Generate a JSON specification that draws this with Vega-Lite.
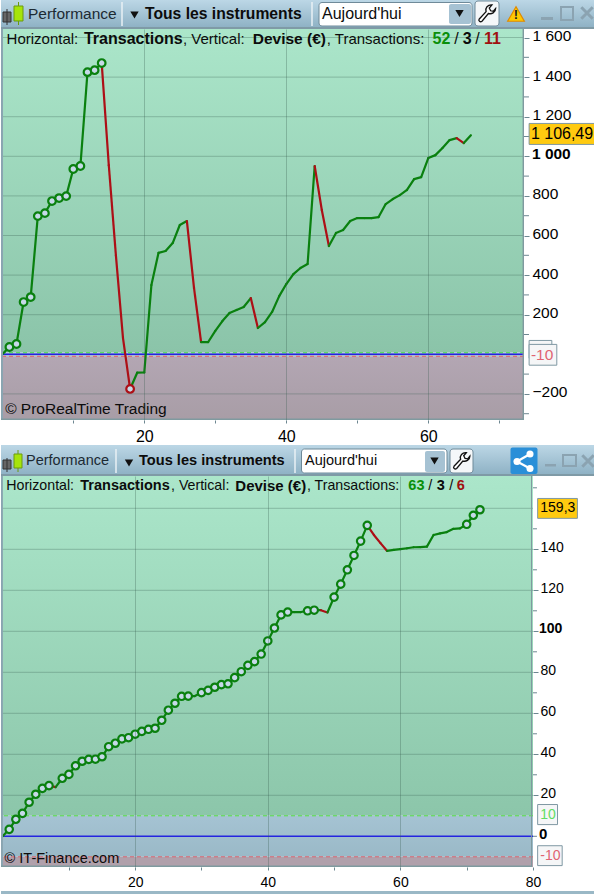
{"$schema":"https://vega.github.io/schema/vega-lite/v6.json","padding":0,"background":"white","bounds":"flush","spacing":0,
"config":{"view":{"stroke":null},"font":"Liberation Sans","text":{"font":"Liberation Sans","align":"left","baseline":"middle","color":"#0c0c0c"},"axis":{"labelFont":"Liberation Sans","labelColor":"#000"}},
"datasets":{"p1":[{"trade":0,"equity":0},{"trade":1,"equity":37,"record":"high"},{"trade":2,"equity":52,"record":"high"},{"trade":3,"equity":264,"record":"high"},{"trade":4,"equity":289,"record":"high"},{"trade":5,"equity":698,"record":"high"},{"trade":6,"equity":713,"record":"high"},{"trade":7,"equity":774,"record":"high"},{"trade":8,"equity":789,"record":"high"},{"trade":9,"equity":799,"record":"high"},{"trade":10,"equity":936,"record":"high"},{"trade":11,"equity":951,"record":"high"},{"trade":12,"equity":1425,"record":"high"},{"trade":13,"equity":1435,"record":"high"},{"trade":14,"equity":1471,"record":"high"},{"trade":15,"equity":955},{"trade":16,"equity":500},{"trade":17,"equity":82},{"trade":18,"equity":-175,"record":"low"},{"trade":19,"equity":-93},{"trade":20,"equity":-92},{"trade":21,"equity":350},{"trade":22,"equity":512},{"trade":23,"equity":522},{"trade":24,"equity":562},{"trade":25,"equity":653},{"trade":26,"equity":673},{"trade":27,"equity":335},{"trade":28,"equity":62},{"trade":29,"equity":62},{"trade":30,"equity":118},{"trade":31,"equity":168},{"trade":32,"equity":209},{"trade":33,"equity":224},{"trade":34,"equity":239},{"trade":35,"equity":284},{"trade":36,"equity":133},{"trade":37,"equity":163},{"trade":38,"equity":214},{"trade":39,"equity":294},{"trade":40,"equity":355},{"trade":41,"equity":405},{"trade":42,"equity":436},{"trade":43,"equity":456},{"trade":44,"equity":951},{"trade":45,"equity":729},{"trade":46,"equity":547},{"trade":47,"equity":613},{"trade":48,"equity":628},{"trade":49,"equity":673},{"trade":50,"equity":688},{"trade":51,"equity":688},{"trade":52,"equity":688},{"trade":53,"equity":693},{"trade":54,"equity":759},{"trade":55,"equity":784},{"trade":56,"equity":804},{"trade":57,"equity":830},{"trade":58,"equity":885},{"trade":59,"equity":895},{"trade":60,"equity":991},{"trade":61,"equity":1006},{"trade":62,"equity":1042},{"trade":63,"equity":1082},{"trade":64,"equity":1092},{"trade":65,"equity":1067},{"trade":66,"equity":1106.49}],
"p2":[{"trade":0,"equity":0},{"trade":1,"equity":3.4,"record":"high"},{"trade":2,"equity":8.3,"record":"high"},{"trade":3,"equity":11.2,"record":"high"},{"trade":4,"equity":16.6,"record":"high"},{"trade":5,"equity":20.5,"record":"high"},{"trade":6,"equity":23.4,"record":"high"},{"trade":7,"equity":24.7,"record":"high"},{"trade":8,"equity":24.0},{"trade":9,"equity":28.3,"record":"high"},{"trade":10,"equity":30.2,"record":"high"},{"trade":11,"equity":34.4,"record":"high"},{"trade":12,"equity":36.6,"record":"high"},{"trade":13,"equity":37.5,"record":"high"},{"trade":14,"equity":37.6,"record":"high"},{"trade":15,"equity":38.8,"record":"high"},{"trade":16,"equity":43.7,"record":"high"},{"trade":17,"equity":45.4,"record":"high"},{"trade":18,"equity":47.5,"record":"high"},{"trade":19,"equity":48.1,"record":"high"},{"trade":20,"equity":49.8,"record":"high"},{"trade":21,"equity":51.2,"record":"high"},{"trade":22,"equity":52.2,"record":"high"},{"trade":23,"equity":52.7,"record":"high"},{"trade":24,"equity":56.6,"record":"high"},{"trade":25,"equity":61.5,"record":"high"},{"trade":26,"equity":64.9,"record":"high"},{"trade":27,"equity":68.3,"record":"high"},{"trade":28,"equity":68.4,"record":"high"},{"trade":29,"equity":68.4},{"trade":30,"equity":70.1,"record":"high"},{"trade":31,"equity":71.2,"record":"high"},{"trade":32,"equity":72.7,"record":"high"},{"trade":33,"equity":74.0,"record":"high"},{"trade":34,"equity":74.4,"record":"high"},{"trade":35,"equity":77.4,"record":"high"},{"trade":36,"equity":80.3,"record":"high"},{"trade":37,"equity":83.4,"record":"high"},{"trade":38,"equity":85.2,"record":"high"},{"trade":39,"equity":88.9,"record":"high"},{"trade":40,"equity":95.3,"record":"high"},{"trade":41,"equity":101.6,"record":"high"},{"trade":42,"equity":108,"record":"high"},{"trade":43,"equity":109.4,"record":"high"},{"trade":44,"equity":109.4},{"trade":45,"equity":109.4},{"trade":46,"equity":110.0,"record":"high"},{"trade":47,"equity":110.3,"record":"high"},{"trade":48,"equity":110.3},{"trade":49,"equity":109.2},{"trade":50,"equity":116.7,"record":"high"},{"trade":51,"equity":123,"record":"high"},{"trade":52,"equity":130,"record":"high"},{"trade":53,"equity":137,"record":"high"},{"trade":54,"equity":144,"record":"high"},{"trade":55,"equity":151.7,"record":"high"},{"trade":56,"equity":147},{"trade":57,"equity":143},{"trade":58,"equity":139.2},{"trade":59,"equity":139.7},{"trade":60,"equity":140.1},{"trade":61,"equity":140.5},{"trade":62,"equity":141},{"trade":63,"equity":141.1},{"trade":64,"equity":141.3},{"trade":65,"equity":147},{"trade":66,"equity":147.8},{"trade":67,"equity":148.4},{"trade":68,"equity":150},{"trade":69,"equity":150.2},{"trade":70,"equity":152.2,"record":"high"},{"trade":71,"equity":156.6,"record":"high"},{"trade":72,"equity":159.3,"record":"high"}]},
"vconcat":[
{"width":594,"height":29,"data":{"values":[{}]},"layer":[
{"mark":{"type":"rect","color":{"gradient":"linear","x1":0,"y1":0,"x2":0,"y2":1,"stops":[{"offset":0,"color":"#bcd7e6"},{"offset":1,"color":"#8fb2c5"}]}},"encoding":{"x":{"datum":0,"type":"quantitative","scale":{"domain":[0,594],"nice":false,"zero":false},"axis":{"labels":false,"ticks":false,"domain":false,"grid":false,"title":null}},"x2":{"datum":594},"y":{"datum":0,"type":"quantitative","scale":{"domain":[29,0],"nice":false,"zero":false},"axis":{"labels":false,"ticks":false,"domain":false,"grid":false,"title":null}},"y2":{"datum":27}}},
{"mark":{"type":"rect","color":"#7f9aa6"},"encoding":{"x":{"datum":0},"x2":{"datum":594},"y":{"datum":27},"y2":{"datum":29}}},
{"mark":{"type":"rect","color":"#666","stroke":"#333"},"encoding":{"x":{"datum":2},"x2":{"datum":10},"y":{"datum":12},"y2":{"datum":22}}},
{"mark":{"type":"rule","color":"#333"},"encoding":{"x":{"datum":6},"y":{"datum":9},"y2":{"datum":25}}},
{"mark":{"type":"rule","color":"#6a9a10"},"encoding":{"x":{"datum":17.5},"y":{"datum":2},"y2":{"datum":25}}},
{"mark":{"type":"rect","color":"#a6e40a","stroke":"#6a9a10"},"encoding":{"x":{"datum":13},"x2":{"datum":22},"y":{"datum":6},"y2":{"datum":21}}},
{"mark":{"type":"text","text":"Performance","fontSize":15.5,"color":"#1c2a33"},"encoding":{"x":{"datum":27},"y":{"datum":13.5}}},
{"mark":{"type":"rule","color":"#e8f0f5","strokeWidth":1.5},"encoding":{"x":{"datum":121},"y":{"datum":2},"y2":{"datum":26}}},
{"mark":{"type":"point","shape":"triangle-down","filled":true,"color":"#111","size":70,"opacity":1},"encoding":{"x":{"datum":133.5},"y":{"datum":15}}},
{"mark":{"type":"text","text":"Tous les instruments","fontSize":15.7,"fontWeight":"bold"},"encoding":{"x":{"datum":144},"y":{"datum":14}}},
{"mark":{"type":"rule","color":"#e8f0f5","strokeWidth":1.5},"encoding":{"x":{"datum":311},"y":{"datum":2},"y2":{"datum":26}}},
{"mark":{"type":"rect","color":"white","stroke":"#6f8a99","cornerRadius":3},"encoding":{"x":{"datum":318},"x2":{"datum":471},"y":{"datum":2.5},"y2":{"datum":26}}},
{"mark":{"type":"text","text":"Aujourd'hui","fontSize":16},"encoding":{"x":{"datum":321},"y":{"datum":13.5}}},
{"mark":{"type":"rect","color":"#a6c2d3","cornerRadius":2},"encoding":{"x":{"datum":448},"x2":{"datum":470},"y":{"datum":4},"y2":{"datum":24}}},
{"mark":{"type":"point","shape":"triangle-down","filled":true,"color":"#111","size":70,"opacity":1},"encoding":{"x":{"datum":458.5},"y":{"datum":13.5}}},
{"mark":{"type":"rect","color":"#f4f7f9","stroke":"#6f8a99","cornerRadius":3},"encoding":{"x":{"datum":474},"x2":{"datum":498},"y":{"datum":1},"y2":{"datum":26}}},
{"mark":{"type":"point","shape":"M0.95 -0.55C0.95 -0.1 0.5 0.1 0.15 0L-0.55 0.85C-0.75 1 -1 0.8 -0.85 0.6L-0.1 -0.2C-0.25 -0.6 0.1 -1 0.55 -0.95L0.25 -0.6L0.4 -0.3L0.7 -0.25Z","filled":true,"color":"#fff","stroke":"#111","strokeWidth":1.3,"size":330,"opacity":1},"encoding":{"x":{"datum":486},"y":{"datum":13.5}}},
{"mark":{"type":"point","shape":"triangle-up","filled":true,"color":"#ffc800","stroke":"#e08a00","strokeWidth":1.2,"size":280,"opacity":1},"encoding":{"x":{"datum":515},"y":{"datum":14}}},
{"mark":{"type":"text","text":"!","fontSize":13,"fontWeight":"bold","align":"center","color":"#222"},"encoding":{"x":{"datum":515},"y":{"datum":15}}},
{"mark":{"type":"rect","color":"#8ba3b1"},"encoding":{"x":{"datum":540},"x2":{"datum":552},"y":{"datum":17},"y2":{"datum":20}}},
{"mark":{"type":"rect","fillOpacity":0,"stroke":"#8ba3b1","strokeWidth":2},"encoding":{"x":{"datum":560},"x2":{"datum":572},"y":{"datum":7},"y2":{"datum":20}}},
{"mark":{"type":"point","shape":"M-1 -1L1 1M1 -1L-1 1","color":"#8ba3b1","strokeWidth":3,"size":130,"opacity":1},"encoding":{"x":{"datum":586},"y":{"datum":13}}}
]},
{"width":523,"height":391,"data":{"values":[{}]},"layer":[
{"mark":{"type":"rect","color":{"gradient":"linear","x1":0,"y1":0,"x2":0,"y2":1,"stops":[{"offset":0,"color":"#abe6ca"},{"offset":1,"color":"#8bc4a9"}]}},"encoding":{"x":{"datum":-0.183,"type":"quantitative","scale":{"domain":[-0.183,73.48],"nice":false,"zero":false},"axis":{"title":null,"zindex":1,"values":[10,20,30,40,50,60,70],"labelExpr":"datum.value%20==0?datum.label:''","labelFontSize":16,"labelPadding":5,"labelOverlap":false,"labelFlush":false,"tickSize":3,"tickColor":"#6d8791","domain":false,"grid":true,"gridColor":"#35594b","gridOpacity":{"condition":{"test":"datum.value%20==0","value":0.3},"value":0}}},"x2":{"datum":73.48},"y":{"datum":1643,"type":"quantitative","scale":{"domain":[-331.8,1643],"nice":false,"zero":false},"axis":{"title":null,"orient":"right","zindex":1,"values":[-200,200,400,600,800,1000,1200,1400,1600],"labelExpr":"datum.value==1000?'':replace(format(datum.value,','),',',' ')","labelFontSize":15.5,"labelPadding":3,"labelOffset":-2,"labelFlush":false,"labelBound":false,"tickSize":5,"tickColor":"#6d8791","domain":false,"grid":false}},"y2":{"datum":10}}},
{"mark":{"type":"rect","color":"#a3c0d0"},"encoding":{"x":{"datum":-0.183},"x2":{"datum":73.48},"y":{"datum":10},"y2":{"datum":-10}}},
{"mark":{"type":"rect","color":{"gradient":"linear","x1":0,"y1":0,"x2":0,"y2":1,"stops":[{"offset":0,"color":"#b3a6b3"},{"offset":1,"color":"#a89da6"}]}},"encoding":{"x":{"datum":-0.183},"x2":{"datum":73.48},"y":{"datum":-10},"y2":{"datum":-331.8}}},
{"data":{"values":[{"level":-200},{"level":200},{"level":400},{"level":600},{"level":800},{"level":1000},{"level":1200},{"level":1400},{"level":1600}]},"mark":{"type":"rule","color":"#35594b","opacity":0.3},"encoding":{"y":{"field":"level","type":"quantitative"}}},
{"data":{"values":[{"level":-300},{"level":-100},{"level":100},{"level":300},{"level":500},{"level":700},{"level":900},{"level":1100},{"level":1300},{"level":1500}]},"mark":{"type":"rule","color":"#6d8791"},"encoding":{"x":{"datum":73.48},"x2":{"datum":74.18},"y":{"field":"level","type":"quantitative"}}},
{"mark":{"type":"rule","color":"#44dd44","strokeWidth":1,"strokeDash":[4,3]},"encoding":{"y":{"datum":8}}},
{"mark":{"type":"rule","color":"#e45a66","strokeWidth":1,"strokeDash":[4,3]},"encoding":{"y":{"datum":-10}}},
{"mark":{"type":"rule","color":"#2424e0","strokeWidth":1.4},"encoding":{"y":{"datum":0}}},
{"data":{"name":"p1"},"transform":[{"window":[{"op":"lead","field":"trade","as":"trade2"},{"op":"lead","field":"equity","as":"equity2"}],"sort":[{"field":"trade"}]},{"filter":"isValid(datum.trade2)"}],"mark":{"type":"rule","strokeWidth":2.2,"strokeCap":"round"},"encoding":{"x":{"field":"trade","type":"quantitative"},"x2":{"field":"trade2"},"y":{"field":"equity","type":"quantitative"},"y2":{"field":"equity2"},"color":{"condition":{"test":"datum.equity2<datum.equity","value":"#ad0f16"},"value":"#0a800f"}}},
{"data":{"name":"p1"},"transform":[{"filter":"datum.record"}],"mark":{"type":"point","filled":true,"fill":"#c6d9e8","strokeWidth":2.2,"size":58,"opacity":1},"encoding":{"x":{"field":"trade","type":"quantitative"},"y":{"field":"equity","type":"quantitative"},"stroke":{"condition":{"test":"datum.record=='low'","value":"#ad0f16"},"value":"#0a800f"}}},
{"mark":{"type":"text","text":"Horizontal:","fontSize":15},"encoding":{"x":{"datum":0.6},"y":{"datum":1592}}},
{"mark":{"type":"text","text":"Transactions","fontSize":16,"fontWeight":"bold"},"encoding":{"x":{"datum":11.5},"y":{"datum":1592}}},
{"mark":{"type":"text","text":", Vertical:","fontSize":15},"encoding":{"x":{"datum":25.45},"y":{"datum":1592}}},
{"mark":{"type":"text","text":"Devise (€)","fontSize":15.5,"fontWeight":"bold"},"encoding":{"x":{"datum":35.27},"y":{"datum":1592}}},
{"mark":{"type":"text","text":", Transactions:","fontSize":15},"encoding":{"x":{"datum":45.7},"y":{"datum":1592}}},
{"mark":{"type":"text","text":"52","fontSize":16,"fontWeight":"bold","color":"#0a8f0a"},"encoding":{"x":{"datum":60.6},"y":{"datum":1592}}},
{"mark":{"type":"text","text":"/","fontSize":16},"encoding":{"x":{"datum":63.65},"y":{"datum":1592}}},
{"mark":{"type":"text","text":"3","fontSize":16,"fontWeight":"bold"},"encoding":{"x":{"datum":64.85},"y":{"datum":1592}}},
{"mark":{"type":"text","text":"/","fontSize":16},"encoding":{"x":{"datum":66.6},"y":{"datum":1592}}},
{"mark":{"type":"text","text":"11","fontSize":16,"fontWeight":"bold","color":"#a01010"},"encoding":{"x":{"datum":67.85},"y":{"datum":1592}}},
{"mark":{"type":"text","text":"© ProRealTime Trading","fontSize":15.5},"encoding":{"x":{"datum":0.4},"y":{"datum":-276}}},
{"mark":{"type":"text","text":"1 000","fontSize":15.5,"fontWeight":"bold","color":"#000"},"encoding":{"x":{"datum":74.6},"y":{"datum":1010}}},
{"mark":{"type":"rect","color":"#f5f6f7","stroke":"#7f98a3"},"encoding":{"x":{"datum":74.2},"x2":{"datum":77.4},"y":{"datum":70},"y2":{"datum":-20}}},
{"mark":{"type":"rect","color":"#f5f6f7","stroke":"#7f98a3"},"encoding":{"x":{"datum":74.2},"x2":{"datum":78.1},"y":{"datum":50},"y2":{"datum":-55}}},
{"mark":{"type":"text","text":"-10","fontSize":15.5,"color":"#e06472"},"encoding":{"x":{"datum":74.45},"y":{"datum":-5}}},
{"mark":{"type":"rect","color":"#ffca10","stroke":"#7f98a3"},"encoding":{"x":{"datum":74.2},"x2":{"datum":83.5},"y":{"datum":1166},"y2":{"datum":1060}}},
{"mark":{"type":"text","text":"1 106,49","fontSize":16,"color":"#000"},"encoding":{"x":{"datum":74.45},"y":{"datum":1112}}},
{"mark":{"type":"rect","color":"#8aa5b1"},"encoding":{"x":{"datum":-0.183},"x2":{"datum":0.1},"y":{"datum":1643},"y2":{"datum":-331.8}}},
{"mark":{"type":"rect","color":"#7f9a9f"},"encoding":{"x":{"datum":73.28},"x2":{"datum":73.48},"y":{"datum":1643},"y2":{"datum":-331.8}}},
{"mark":{"type":"rect","color":"#7f9a9f"},"encoding":{"x":{"datum":-0.183},"x2":{"datum":73.48},"y":{"datum":-324},"y2":{"datum":-331.8}}}
]},
{"width":594,"height":56,"data":{"values":[{}]},"layer":[
{"mark":{"type":"rect","color":{"gradient":"linear","x1":0,"y1":0,"x2":0,"y2":1,"stops":[{"offset":0,"color":"#bcd7e6"},{"offset":1,"color":"#8fb2c5"}]}},"encoding":{"x":{"datum":0,"type":"quantitative","scale":{"domain":[0,594],"nice":false,"zero":false},"axis":{"labels":false,"ticks":false,"domain":false,"grid":false,"title":null}},"x2":{"datum":594},"y":{"datum":445,"type":"quantitative","scale":{"domain":[476,420],"nice":false,"zero":false},"axis":{"labels":false,"ticks":false,"domain":false,"grid":false,"title":null}},"y2":{"datum":474}}},
{"mark":{"type":"rect","color":"#7f9aa6"},"encoding":{"x":{"datum":0},"x2":{"datum":594},"y":{"datum":474},"y2":{"datum":476}}},
{"mark":{"type":"rect","color":"#666","stroke":"#333"},"encoding":{"x":{"datum":2},"x2":{"datum":10},"y":{"datum":460},"y2":{"datum":469}}},
{"mark":{"type":"rule","color":"#333"},"encoding":{"x":{"datum":6},"y":{"datum":458},"y2":{"datum":472}}},
{"mark":{"type":"rule","color":"#6a9a10"},"encoding":{"x":{"datum":17},"y":{"datum":450},"y2":{"datum":472}}},
{"mark":{"type":"rect","color":"#a6e40a","stroke":"#6a9a10"},"encoding":{"x":{"datum":13},"x2":{"datum":21},"y":{"datum":454},"y2":{"datum":468}}},
{"mark":{"type":"text","text":"Performance","fontSize":14.5,"color":"#1c2a33"},"encoding":{"x":{"datum":25},"y":{"datum":461}}},
{"mark":{"type":"rule","color":"#e8f0f5","strokeWidth":1.5},"encoding":{"x":{"datum":115},"y":{"datum":449},"y2":{"datum":473}}},
{"mark":{"type":"point","shape":"triangle-down","filled":true,"color":"#111","size":70,"opacity":1},"encoding":{"x":{"datum":128},"y":{"datum":463}}},
{"mark":{"type":"text","text":"Tous les instruments","fontSize":14.6,"fontWeight":"bold"},"encoding":{"x":{"datum":138},"y":{"datum":461}}},
{"mark":{"type":"rule","color":"#e8f0f5","strokeWidth":1.5},"encoding":{"x":{"datum":294},"y":{"datum":449},"y2":{"datum":473}}},
{"mark":{"type":"rect","color":"white","stroke":"#6f8a99","cornerRadius":3},"encoding":{"x":{"datum":300.5},"x2":{"datum":446},"y":{"datum":449},"y2":{"datum":473}}},
{"mark":{"type":"text","text":"Aujourd'hui","fontSize":14.5},"encoding":{"x":{"datum":304},"y":{"datum":461}}},
{"mark":{"type":"rect","color":"#a6c2d3","cornerRadius":2},"encoding":{"x":{"datum":424},"x2":{"datum":444},"y":{"datum":451},"y2":{"datum":472}}},
{"mark":{"type":"point","shape":"triangle-down","filled":true,"color":"#111","size":70,"opacity":1},"encoding":{"x":{"datum":433.5},"y":{"datum":461}}},
{"mark":{"type":"rect","color":"#f4f7f9","stroke":"#6f8a99","cornerRadius":3},"encoding":{"x":{"datum":449},"x2":{"datum":472},"y":{"datum":449},"y2":{"datum":473}}},
{"mark":{"type":"point","shape":"M0.95 -0.55C0.95 -0.1 0.5 0.1 0.15 0L-0.55 0.85C-0.75 1 -1 0.8 -0.85 0.6L-0.1 -0.2C-0.25 -0.6 0.1 -1 0.55 -0.95L0.25 -0.6L0.4 -0.3L0.7 -0.25Z","filled":true,"color":"#fff","stroke":"#111","strokeWidth":1.3,"size":310,"opacity":1},"encoding":{"x":{"datum":460.5},"y":{"datum":461}}},
{"mark":{"type":"rect","color":"#2a8fd8","cornerRadius":2},"encoding":{"x":{"datum":509.5},"x2":{"datum":536.5},"y":{"datum":447.5},"y2":{"datum":474}}},
{"mark":{"type":"rule","color":"white","strokeWidth":2.2},"encoding":{"x":{"datum":516},"x2":{"datum":529},"y":{"datum":461.5},"y2":{"datum":454}}},
{"mark":{"type":"rule","color":"white","strokeWidth":2.2},"encoding":{"x":{"datum":516},"x2":{"datum":529},"y":{"datum":461.5},"y2":{"datum":468.5}}},
{"mark":{"type":"point","shape":"circle","filled":true,"color":"white","size":50,"opacity":1},"encoding":{"x":{"datum":516},"y":{"datum":461.5}}},
{"mark":{"type":"point","shape":"circle","filled":true,"color":"white","size":50,"opacity":1},"encoding":{"x":{"datum":529},"y":{"datum":454}}},
{"mark":{"type":"point","shape":"circle","filled":true,"color":"white","size":50,"opacity":1},"encoding":{"x":{"datum":529},"y":{"datum":468.5}}},
{"mark":{"type":"rect","color":"#8ba3b1"},"encoding":{"x":{"datum":544},"x2":{"datum":555},"y":{"datum":464},"y2":{"datum":466.5}}},
{"mark":{"type":"rect","fillOpacity":0,"stroke":"#8ba3b1","strokeWidth":2},"encoding":{"x":{"datum":562},"x2":{"datum":575},"y":{"datum":455},"y2":{"datum":466}}},
{"mark":{"type":"point","shape":"M-1 -1L1 1M1 -1L-1 1","color":"#8ba3b1","strokeWidth":3,"size":130,"opacity":1},"encoding":{"x":{"datum":587},"y":{"datum":461}}}
]},
{"width":532,"height":391,"data":{"values":[{}]},"layer":[
{"mark":{"type":"rect","color":{"gradient":"linear","x1":0,"y1":0,"x2":0,"y2":1,"stops":[{"offset":0,"color":"#abe6ca"},{"offset":1,"color":"#8cc6aa"}]}},"encoding":{"x":{"datum":-0.241,"type":"quantitative","scale":{"domain":[-0.241,80],"nice":false,"zero":false},"axis":{"title":null,"zindex":1,"values":[10,20,30,40,50,60,70,80],"labelExpr":"datum.value%20==0?datum.label:''","labelFontSize":14,"labelPadding":5,"labelOverlap":false,"labelFlush":false,"labelBound":false,"tickSize":3,"tickColor":"#6d8791","domain":false,"grid":true,"gridColor":"#35594b","gridOpacity":{"condition":{"test":"datum.value%20==0&&datum.value<80","value":0.3},"value":0}}},"x2":{"datum":80},"y":{"datum":175.76,"type":"quantitative","scale":{"domain":[-14.98,175.76],"nice":false,"zero":false},"axis":{"title":null,"orient":"right","zindex":1,"values":[20,40,60,80,100,120,140],"labelExpr":"datum.value==100?'':datum.label","labelFontSize":14,"labelPadding":2,"labelOffset":-2,"labelFlush":false,"labelBound":false,"tickSize":5,"tickColor":"#6d8791","domain":false,"grid":false}},"y2":{"datum":10}}},
{"mark":{"type":"rect","color":{"gradient":"linear","x1":0,"y1":0,"x2":0,"y2":1,"stops":[{"offset":0,"color":"#a5c3d3"},{"offset":1,"color":"#9ab9c7"}]}},"encoding":{"x":{"datum":-0.241},"x2":{"datum":80},"y":{"datum":10},"y2":{"datum":-10}}},
{"mark":{"type":"rect","color":"#b0a0ab"},"encoding":{"x":{"datum":-0.241},"x2":{"datum":80},"y":{"datum":-10},"y2":{"datum":-14.98}}},
{"data":{"values":[{"level":20},{"level":40},{"level":60},{"level":80},{"level":100},{"level":120},{"level":140},{"level":160}]},"mark":{"type":"rule","color":"#35594b","opacity":0.3},"encoding":{"y":{"field":"level","type":"quantitative"}}},
{"data":{"values":[{"level":0},{"level":30},{"level":50},{"level":70},{"level":90},{"level":110},{"level":130},{"level":150},{"level":170}]},"mark":{"type":"rule","color":"#6d8791"},"encoding":{"x":{"datum":80},"x2":{"datum":80.6},"y":{"field":"level","type":"quantitative"}}},
{"mark":{"type":"rule","color":"#55dd44","strokeWidth":1,"strokeDash":[4,3]},"encoding":{"y":{"datum":10}}},
{"mark":{"type":"rule","color":"#d96470","strokeWidth":1,"strokeDash":[4,3]},"encoding":{"y":{"datum":-10}}},
{"mark":{"type":"rule","color":"#2424e0","strokeWidth":1.4},"encoding":{"y":{"datum":0}}},
{"data":{"name":"p2"},"transform":[{"window":[{"op":"lead","field":"trade","as":"trade2"},{"op":"lead","field":"equity","as":"equity2"}],"sort":[{"field":"trade"}]},{"filter":"isValid(datum.trade2)"}],"mark":{"type":"rule","strokeWidth":2.2,"strokeCap":"round"},"encoding":{"x":{"field":"trade","type":"quantitative"},"x2":{"field":"trade2"},"y":{"field":"equity","type":"quantitative"},"y2":{"field":"equity2"},"color":{"condition":{"test":"datum.equity2<datum.equity","value":"#ad0f16"},"value":"#0a800f"}}},
{"data":{"name":"p2"},"transform":[{"filter":"datum.record"}],"mark":{"type":"point","filled":true,"fill":"#c6d9e8","stroke":"#0a800f","strokeWidth":2.2,"size":55,"opacity":1},"encoding":{"x":{"field":"trade","type":"quantitative"},"y":{"field":"equity","type":"quantitative"}}},
{"mark":{"type":"text","text":"Horizontal:","fontSize":14.2},"encoding":{"x":{"datum":0.55},"y":{"datum":171}}},
{"mark":{"type":"text","text":"Transactions","fontSize":14.5,"fontWeight":"bold"},"encoding":{"x":{"datum":11.72},"y":{"datum":171}}},
{"mark":{"type":"text","text":", Vertical:","fontSize":14.2},"encoding":{"x":{"datum":25.4},"y":{"datum":171}}},
{"mark":{"type":"text","text":"Devise (€)","fontSize":15,"fontWeight":"bold"},"encoding":{"x":{"datum":35.1},"y":{"datum":171}}},
{"mark":{"type":"text","text":", Transactions:","fontSize":14.2},"encoding":{"x":{"datum":45.9},"y":{"datum":171}}},
{"mark":{"type":"text","text":"63","fontSize":14.5,"fontWeight":"bold","color":"#0a8f0a"},"encoding":{"x":{"datum":61.2},"y":{"datum":171}}},
{"mark":{"type":"text","text":"/","fontSize":14.5},"encoding":{"x":{"datum":64.2},"y":{"datum":171}}},
{"mark":{"type":"text","text":"3","fontSize":14.5,"fontWeight":"bold"},"encoding":{"x":{"datum":65.5},"y":{"datum":171}}},
{"mark":{"type":"text","text":"/","fontSize":14.5},"encoding":{"x":{"datum":67.35},"y":{"datum":171}}},
{"mark":{"type":"text","text":"6","fontSize":14.5,"fontWeight":"bold","color":"#a01010"},"encoding":{"x":{"datum":68.5},"y":{"datum":171}}},
{"mark":{"type":"text","text":"© IT-Finance.com","fontSize":14.5},"encoding":{"x":{"datum":0.3},"y":{"datum":-11}}},
{"mark":{"type":"text","text":"0","fontSize":15,"fontWeight":"bold","color":"#000"},"encoding":{"x":{"datum":80.9},"y":{"datum":1}}},
{"mark":{"type":"text","text":"100","fontSize":14,"fontWeight":"bold","color":"#000"},"encoding":{"x":{"datum":80.9},"y":{"datum":101}}},
{"mark":{"type":"rect","color":"#ffca10","stroke":"#7f98a3"},"encoding":{"x":{"datum":80.7},"x2":{"datum":86.7},"y":{"datum":164.8},"y2":{"datum":155.1}}},
{"mark":{"type":"text","text":"159,3","fontSize":14,"color":"#000"},"encoding":{"x":{"datum":81.1},"y":{"datum":160}}},
{"mark":{"type":"rect","color":"#f5f6f7","stroke":"#7f98a3"},"encoding":{"x":{"datum":80.7},"x2":{"datum":83.7},"y":{"datum":15.5},"y2":{"datum":5.7}}},
{"mark":{"type":"text","text":"10","fontSize":14,"color":"#62dd62"},"encoding":{"x":{"datum":81.1},"y":{"datum":10.2}}},
{"mark":{"type":"rect","color":"#f5f6f7","stroke":"#7f98a3"},"encoding":{"x":{"datum":80.7},"x2":{"datum":84.4},"y":{"datum":-4.6},"y2":{"datum":-14.3}}},
{"mark":{"type":"text","text":"-10","fontSize":14,"color":"#e06472"},"encoding":{"x":{"datum":81.1},"y":{"datum":-9.7}}},
{"mark":{"type":"rect","color":"#8aa5b1"},"encoding":{"x":{"datum":-0.241},"x2":{"datum":0.05},"y":{"datum":175.76},"y2":{"datum":-14.98}}},
{"mark":{"type":"rect","color":"#7f9a9f"},"encoding":{"x":{"datum":79.7},"x2":{"datum":79.85},"y":{"datum":175.76},"y2":{"datum":-14.98}}},
{"mark":{"type":"rect","color":"#7f9a9f"},"encoding":{"x":{"datum":-0.241},"x2":{"datum":79.85},"y":{"datum":-14.3},"y2":{"datum":-14.98}}},
{"mark":{"type":"rect","color":"#9ab8c6"},"encoding":{"x":{"datum":-0.241},"x2":{"datum":89.35},"y":{"datum":-26.7},"y2":{"datum":-28.2}}}
]}
]}
